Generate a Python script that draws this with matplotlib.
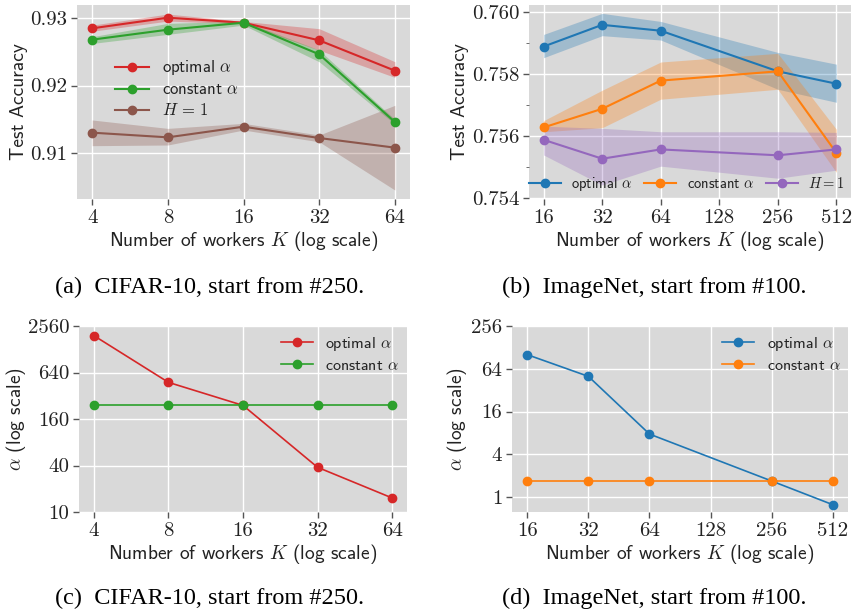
import numpy as np
import matplotlib
matplotlib.use("Agg")
import matplotlib.pyplot as plt
from matplotlib.ticker import FixedLocator, NullLocator

# ---- (a) CIFAR-10 test accuracy ----
k_cifar = [4, 8, 16, 32, 64]
cifar_opt = [0.92843, 0.93000, 0.92926, 0.92666, 0.92219]
cifar_opt_lo = [0.92800, 0.92950, 0.92910, 0.92520, 0.92120]
cifar_opt_hi = [0.92890, 0.93054, 0.92945, 0.92838, 0.92351]
cifar_const = [0.92676, 0.92823, 0.92926, 0.92460, 0.91462]
cifar_const_lo = [0.92620, 0.92754, 0.92890, 0.92350, 0.91430]
cifar_const_hi = [0.92720, 0.92916, 0.92950, 0.92523, 0.91500]
cifar_h1 = [0.91305, 0.91236, 0.91393, 0.91226, 0.91084]
cifar_h1_lo = [0.91113, 0.91123, 0.91344, 0.91170, 0.90459]
cifar_h1_hi = [0.91492, 0.91368, 0.91442, 0.91270, 0.91708]

# ---- (b) ImageNet test accuracy ----
k_imnet = [16, 32, 64, 256, 512]
imnet_opt = [0.75890, 0.75960, 0.75941, 0.75810, 0.75770]
imnet_opt_lo = [0.75854, 0.75925, 0.75911, 0.75752, 0.75710]
imnet_opt_hi = [0.75929, 0.75997, 0.75971, 0.75871, 0.75833]
imnet_const = [0.75629, 0.75689, 0.75780, 0.75810, 0.75547]
imnet_const_lo = [0.75615, 0.75628, 0.75720, 0.75752, 0.75484]
imnet_const_hi = [0.75651, 0.75749, 0.75840, 0.75868, 0.75623]
imnet_h1 = [0.75589, 0.75528, 0.75558, 0.75539, 0.75558]
imnet_h1_lo = [0.75540, 0.75443, 0.75504, 0.75465, 0.75491]
imnet_h1_hi = [0.75633, 0.75626, 0.75615, 0.75615, 0.75613]

# ---- (c) CIFAR-10 alpha ----
cifar_alpha_opt = [1920, 477, 240, 37.9, 15.2]
cifar_alpha_const = [240, 240, 240, 240, 240]

# ---- (d) ImageNet alpha ----
imnet_alpha_opt = [101, 50.0, 7.7, 1.68, 0.78]
imnet_alpha_const = [1.68, 1.68, 1.68, 1.68, 1.68]

cifar_ticks = [4, 8, 16, 32, 64]
imnet_ticks = [16, 32, 64, 128, 256, 512]

W, H = 852.0, 610.0
BG = '#d9d9d9'
SANS = 'cmss10'
SERIF = 'cmr10'
TXT = '#222222'

plt.rcParams['mathtext.fontset'] = 'cm'
plt.rcParams['axes.unicode_minus'] = False

fig = plt.figure(figsize=(W / 100, H / 100), dpi=100)


def box(l, r, t, b):
    return [l / W, 1 - b / H, (r - l) / W, (b - t) / H]


def style(ax, xticks, ylab, ylab_x):
    ax.set_facecolor(BG)
    for s in ax.spines.values():
        s.set_visible(False)
    ax.set_xscale('log', base=2)
    ax.xaxis.set_major_locator(FixedLocator(xticks))
    ax.xaxis.set_minor_locator(NullLocator())
    ax.set_xticklabels([str(t) for t in xticks])
    ax.grid(True, color='white', linewidth=1.0)
    ax.set_axisbelow(True)
    ax.tick_params(direction='out', length=4, width=1, color='#555555',
                   labelcolor=TXT, labelsize=15, pad=3)
    for lab in ax.get_xticklabels() + ax.get_yticklabels():
        lab.set_fontfamily(SERIF)
    ax.set_xlabel(r'Number of workers $K$ (log scale)', fontfamily=SANS,
                  fontsize=14, color=TXT, labelpad=2)
    ax.set_ylabel(ylab, fontfamily=SANS, fontsize=14, color=TXT)
    ax.yaxis.set_label_coords(ylab_x, 0.5)


def band(ax, x, y, lo, hi, c, lab):
    ax.fill_between(x, lo, hi, color=c, alpha=0.3, linewidth=0)
    ax.plot(x, y, '-o', color=c, lw=1.5, ms=6, label=lab)


def legend(ax, size=12, **kw):
    lg = ax.legend(frameon=False, prop={'family': SANS, 'size': size}, **kw)
    for t in lg.get_texts():
        t.set_color(TXT)
    return lg


# (a)
ax = fig.add_axes(box(77, 410, 5, 199))
band(ax, k_cifar, cifar_opt, cifar_opt_lo, cifar_opt_hi, '#d62728', r'optimal $\alpha$')
band(ax, k_cifar, cifar_const, cifar_const_lo, cifar_const_hi, '#2ca02c', r'constant $\alpha$')
band(ax, k_cifar, cifar_h1, cifar_h1_lo, cifar_h1_hi, '#8c564b', r'$H\,=\,1$')
ax.set_ylim(0.90327, 0.93187)
ax.yaxis.set_major_locator(FixedLocator([0.91, 0.92, 0.93]))
ax.set_yticklabels(['0.91', '0.92', '0.93'])
style(ax, cifar_ticks, 'Test Accuracy', -0.147)
legend(ax, loc='center left', bbox_to_anchor=(0.07, 0.57), labelspacing=0.3)

# (b)
ax = fig.add_axes(box(529, 851, 5, 199))
band(ax, k_imnet, imnet_opt, imnet_opt_lo, imnet_opt_hi, '#1f77b4', r'optimal $\alpha$')
band(ax, k_imnet, imnet_const, imnet_const_lo, imnet_const_hi, '#ff7f0e', r'constant $\alpha$')
band(ax, k_imnet, imnet_h1, imnet_h1_lo, imnet_h1_hi, '#9467bd', r'$H=1$')
ax.set_ylim(0.75398, 0.76024)
ax.yaxis.set_major_locator(FixedLocator([0.754, 0.756, 0.758, 0.760]))
ax.yaxis.set_minor_locator(FixedLocator([0.755, 0.757, 0.759]))
ax.set_yticklabels(['0.754', '0.756', '0.758', '0.760'])
style(ax, imnet_ticks, 'Test Accuracy', -0.186)
ax.tick_params(axis='y', which='minor', direction='out', length=2.5, color='#555555')
legend(ax, size=10.5, loc='lower left', bbox_to_anchor=(-0.018, 0.0), ncol=3,
       borderaxespad=0, columnspacing=0.8, handlelength=2.2, handletextpad=0.7)

# (c)
ax = fig.add_axes(box(79, 407, 326, 512))
ax.plot(k_cifar, cifar_alpha_opt, '-o', color='#d62728', lw=1.2, ms=6, label=r'optimal $\alpha$')
ax.plot(k_cifar, cifar_alpha_const, '-o', color='#2ca02c', lw=1.2, ms=6, label=r'constant $\alpha$')
ax.set_yscale('log')
ax.set_ylim(10, 2560)
ax.yaxis.set_major_locator(FixedLocator([10, 40, 160, 640, 2560]))
ax.yaxis.set_minor_locator(NullLocator())
ax.set_yticklabels(['10', '40', '160', '640', '2560'])
style(ax, cifar_ticks, r'$\alpha$ (log scale)', -0.155)
legend(ax, size=11.5, loc='upper right', bbox_to_anchor=(1.02, 1.03), labelspacing=0.35)

# (d)
ax = fig.add_axes(box(512, 848, 326, 512))
ax.plot(k_imnet, imnet_alpha_opt, '-o', color='#1f77b4', lw=1.2, ms=6, label=r'optimal $\alpha$')
ax.plot(k_imnet, imnet_alpha_const, '-o', color='#ff7f0e', lw=1.2, ms=6, label=r'constant $\alpha$')
ax.set_yscale('log')
ax.set_ylim(0.615, 256)
ax.yaxis.set_major_locator(FixedLocator([1, 4, 16, 64, 256]))
ax.yaxis.set_minor_locator(NullLocator())
ax.set_yticklabels(['1', '4', '16', '64', '256'])
style(ax, imnet_ticks, r'$\alpha$ (log scale)', -0.128)
legend(ax, size=11.5, loc='upper right', bbox_to_anchor=(1.02, 1.03), labelspacing=0.35)

# captions
cap = dict(ha='center', va='center', fontfamily='Liberation Serif', fontsize=17.5, color='black')
fig.text(210 / W, 1 - 287 / H, '(a)  CIFAR-10, start from #250.', **cap)
fig.text(654 / W, 1 - 287 / H, '(b)  ImageNet, start from #100.', **cap)
fig.text(210 / W, 1 - 598 / H, '(c)  CIFAR-10, start from #250.', **cap)
fig.text(654 / W, 1 - 598 / H, '(d)  ImageNet, start from #100.', **cap)

fig.savefig('out.png', dpi=100)
